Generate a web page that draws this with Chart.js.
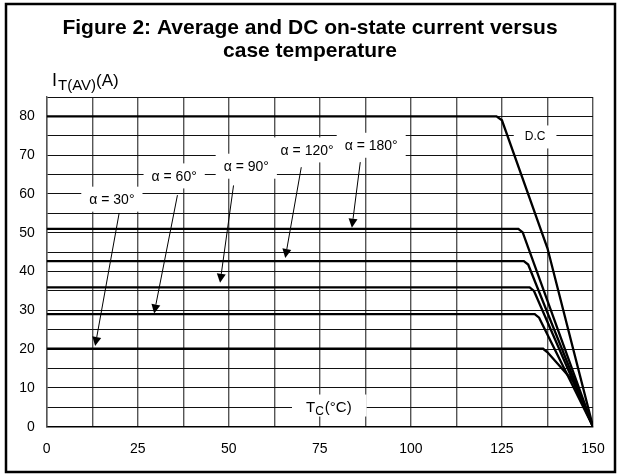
<!DOCTYPE html>
<html><head><meta charset="utf-8">
<script src="https://cdn.jsdelivr.net/npm/chart.js@4/dist/chart.umd.min.js"></script>
<style>html,body{margin:0;padding:0;background:#fff}#wrap{position:relative;width:621px;height:475px}</style>
</head><body><div id="wrap"><canvas id="c" width="621" height="475"></canvas></div>
<script>
// ---- data ----
const titleLines = ['Figure 2: Average and DC on-state current versus', 'case temperature'];
const xTickLabels = [0, 25, 50, 75, 100, 125, 150];
const yTickLabels = [0, 10, 20, 30, 40, 50, 60, 70, 80];

const dcT   = [0, 123.5, 125, 137.5, 150];
const dcI   = [80, 80, 79, 46, 0];
const a180T = [0, 129.5, 130.7, 150];
const a180I = [51, 51, 50.1, 0];
const a120T = [0, 131.0, 132.2, 150];
const a120I = [42.7, 42.7, 41.8, 0];
const a90T  = [0, 132.6, 133.8, 150];
const a90I  = [35.9, 35.9, 35.0, 0];
const a60T  = [0, 134.0, 135.2, 150];
const a60I  = [29.0, 29.0, 28.1, 0];
const a30T  = [0, 136.3, 137.5, 144.5, 150];
const a30I  = [20.1, 20.1, 19.2, 11.8, 0];

const seriesNames = ['D.C', 'α = 180°', 'α = 120°', 'α = 90°', 'α = 60°', 'α = 30°'];
const seriesT = [dcT, a180T, a120T, a90T, a60T, a30T];
const seriesI = [dcI, a180I, a120I, a90I, a60I, a30I];

// annotation labels (data units)
const alphaLabels = ['α = 30°', 'α = 60°', 'α = 90°', 'α = 120°', 'α = 180°'];
const labelX = [17.9, 35.0, 54.8, 71.5, 89.1];
const labelY = [58.4, 64.4, 66.9, 71.1, 72.3];
const arrowFromX = [19.9, 35.9, 51.3, 69.9, 86.1];
const arrowFromY = [55.1, 59.7, 62.2, 66.9, 68.2];
const arrowToX = [13.3, 29.5, 47.6, 65.5, 83.8];
const arrowToY = [20.8, 29.2, 37.1, 43.5, 51.3];
const dcLabelPos = [134.1, 74.7];
const xTitlePos = [77.6, 5.2];

const FONT = "'Liberation Sans', Arial, sans-serif";

const datasets = seriesNames.map((n, k) => ({
  label: n,
  data: seriesT[k].map((t, i) => ({x: t, y: seriesI[k][i]})),
  showLine: true,
  borderColor: '#000',
  borderWidth: 2.3,
  pointRadius: 0,
  fill: false,
  tension: 0
}));

function box(ctx, cx, cy, w, h) {
  ctx.fillStyle = '#fff';
  ctx.fillRect(cx - w / 2, cy - h / 2, w, h);
}

const deco = {
  id: 'deco',
  afterDatasetsDraw(chart) {
    const ctx = chart.ctx;
    const xs = chart.scales.x, ys = chart.scales.y;
    ctx.save();
    // arrows
    for (let i = 0; i < alphaLabels.length; i++) {
      const x0 = xs.getPixelForValue(arrowFromX[i]), y0 = ys.getPixelForValue(arrowFromY[i]);
      const x1 = xs.getPixelForValue(arrowToX[i]), y1 = ys.getPixelForValue(arrowToY[i]);
      const ang = Math.atan2(y1 - y0, x1 - x0);
      const hl = 9, hw = 4.5;
      const bx = x1 - hl * Math.cos(ang), by = y1 - hl * Math.sin(ang);
      ctx.strokeStyle = '#000'; ctx.lineWidth = 1;
      ctx.beginPath(); ctx.moveTo(x0, y0); ctx.lineTo(bx, by); ctx.stroke();
      ctx.fillStyle = '#000';
      ctx.beginPath();
      ctx.moveTo(x1, y1);
      ctx.lineTo(bx + hw * Math.sin(ang), by - hw * Math.cos(ang));
      ctx.lineTo(bx - hw * Math.sin(ang), by + hw * Math.cos(ang));
      ctx.closePath(); ctx.fill();
    }
    // alpha labels
    ctx.font = '14px ' + FONT;
    ctx.textAlign = 'center'; ctx.textBaseline = 'middle';
    for (let i = 0; i < alphaLabels.length; i++) {
      const cx = xs.getPixelForValue(labelX[i]), cy = ys.getPixelForValue(labelY[i]);
      const w = ctx.measureText(alphaLabels[i]).width;
      box(ctx, cx, cy - 1, w + 16, 25);
      ctx.fillStyle = '#000';
      ctx.fillText(alphaLabels[i], cx, cy);
    }
    // D.C label
    {
      const cx = xs.getPixelForValue(dcLabelPos[0]), cy = ys.getPixelForValue(dcLabelPos[1]);
      ctx.font = '12px ' + FONT;
      const w = ctx.measureText('D.C').width;
      box(ctx, cx, cy, w + 22, 23);
      ctx.fillStyle = '#000';
      ctx.fillText('D.C', cx, cy);
    }
    // x axis title T_C(°C)
    {
      const cx = xs.getPixelForValue(xTitlePos[0]), cy = ys.getPixelForValue(xTitlePos[1]);
      const fMain = '15px ' + FONT, fSub = '12px ' + FONT;
      ctx.font = fMain; const wT = ctx.measureText('T').width; const wR = ctx.measureText('(°C)').width;
      ctx.font = fSub; const wS = ctx.measureText('C').width;
      const tw = wT + wS + wR + 2;
      box(ctx, cx, cy - 1, tw + 28, 22);
      ctx.fillStyle = '#000'; ctx.textAlign = 'left'; ctx.textBaseline = 'alphabetic';
      let x = cx - tw / 2; const base = cy + 5;
      ctx.font = fMain; ctx.fillText('T', x, base); x += wT;
      ctx.font = fSub; ctx.fillText('C', x, base + 3); x += wS + 1;
      ctx.font = fMain; ctx.fillText('(°C)', x, base);
    }
    ctx.restore();
  },
  afterDraw(chart) {
    const ctx = chart.ctx;
    ctx.save();
    // title
    ctx.fillStyle = '#000';
    ctx.font = 'bold 21px ' + FONT;
    ctx.textAlign = 'center'; ctx.textBaseline = 'alphabetic';
    ctx.fillText(titleLines[0], 310, 34);
    ctx.fillText(titleLines[1], 310, 57);
    // y axis title I_T(AV)(A)
    ctx.textAlign = 'left';
    let x = 52;
    ctx.font = '18px ' + FONT; ctx.fillText('I', x, 86); x += ctx.measureText('I').width + 1;
    ctx.font = '15px ' + FONT; ctx.fillText('T(AV)', x, 90); x += ctx.measureText('T(AV)').width;
    ctx.font = '17px ' + FONT; ctx.fillText('(A)', x, 86);
    // outer frame
    ctx.strokeStyle = '#000'; ctx.lineWidth = 2.5;
    ctx.strokeRect(6, 4, 609, 468);
    ctx.restore();
  }
};

new Chart(document.getElementById('c'), {
  type: 'scatter',
  data: { datasets },
  options: {
    responsive: false,
    devicePixelRatio: 1,
    animation: false,
    layout: { padding: { top: 97, right: 28, left: 0, bottom: 0 } },
    plugins: { legend: { display: false }, tooltip: { enabled: false }, title: { display: false } },
    scales: {
      x: {
        type: 'linear', min: 0, max: 150,
        afterBuildTicks: s => { const t = []; for (let v = 0; v <= 150; v += 12.5) t.push({value: v}); s.ticks = t; },
        afterFit: s => { s.height = 48.3; },
        ticks: {
          autoSkip: false, maxRotation: 0, padding: 14, color: '#000',
          font: { family: FONT, size: 14 },
          callback: v => xTickLabels.includes(v) ? String(v) : ''
        },
        grid: { color: '#555', lineWidth: 1.4, drawTicks: false },
        border: { display: true, color: '#000', width: 1.5 }
      },
      y: {
        type: 'linear', min: 0, max: 85,
        afterBuildTicks: s => { const t = []; for (let v = 0; v <= 85; v += 5) t.push({value: v}); s.ticks = t; },
        afterFit: s => { s.width = 46.7; },
        ticks: {
          autoSkip: false, padding: 12, color: '#000',
          font: { family: FONT, size: 14 },
          callback: v => yTickLabels.includes(v) ? String(v) : ''
        },
        grid: { color: '#111', lineWidth: 1, drawTicks: false },
        border: { display: true, color: '#555', width: 1.4 }
      }
    }
  },
  plugins: [deco]
});
</script>
</body></html>
